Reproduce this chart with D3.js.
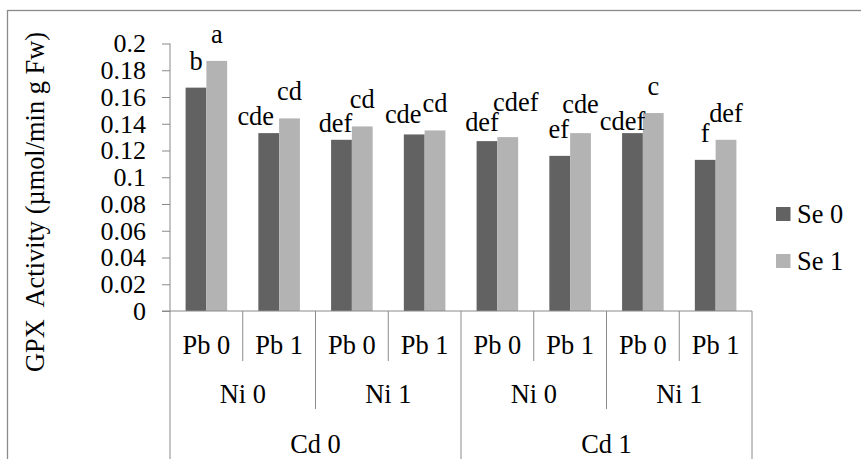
<!DOCTYPE html>
<html>
<head>
<meta charset="utf-8">
<script src="https://cdn.jsdelivr.net/npm/d3@7"></script>
<style>
  html, body { margin: 0; padding: 0; background: #fff; }
  svg text { font-family: "Times New Roman", "Liberation Serif", "DejaVu Serif", serif; }
</style>
</head>
<body>
<svg id="chart" width="861" height="459"></svg>
<script>
// ---- data ----
const cdLevels = ["Cd 0", "Cd 1"];
const niLevels = ["Ni 0", "Ni 1"];
const pbLevels = ["Pb 0", "Pb 1"];
const seriesNames = ["Se 0", "Se 1"];
const se0Values = [0.167, 0.133, 0.128, 0.132, 0.127, 0.116, 0.133, 0.113];
const se1Values = [0.187, 0.144, 0.138, 0.135, 0.130, 0.133, 0.148, 0.128];
const se0Letters = ["b", "cde", "def", "cde", "def", "ef", "cdef", "f"];
const se1Letters = ["a", "cd", "cd", "cd", "cdef", "cde", "c", "def"];
const yTicks = [0, 0.02, 0.04, 0.06, 0.08, 0.1, 0.12, 0.14, 0.16, 0.18, 0.2];

// label nudges (px) where the labels were pushed aside to avoid overlap
const se0NudgeX = [0, -13, -6, -11, -5, -1, -10, 0];
const se0NudgeY = [0, 10, 10, 7, 8, 0, 15, 0];
const se1NudgeX = [0, 0, 0, 0, 8, 0, 0, 0];
const se1NudgeY = [0, 0, 0, 0, -8, -2, 0, 0];

const colors = ["#626262", "#b3b3b3"];
const lineColor = "#8a8a8a";
const fontSize = 26.4;
const tickFontSize = 26;
const fontFamily = "'Times New Roman', 'Liberation Serif', 'DejaVu Serif', serif";

// Build the leaf categories (Cd > Ni > Pb) and rows of bars
const leaves = [];
cdLevels.forEach(function(cd) {
    niLevels.forEach(function(ni) {
        pbLevels.forEach(function(pb) {
            leaves.push({ cd: cd, ni: ni, pb: pb, key: cd + "|" + ni + "|" + pb });
        });
    });
});
const bars = [];
leaves.forEach(function(leaf, i) {
    bars.push({ leaf: leaf.key, s: seriesNames[0], v: se0Values[i], t: se0Letters[i], nx: se0NudgeX[i], ny: se0NudgeY[i], c: colors[0] });
    bars.push({ leaf: leaf.key, s: seriesNames[1], v: se1Values[i], t: se1Letters[i], nx: se1NudgeX[i], ny: se1NudgeY[i], c: colors[1] });
});

const svg = d3.select("#chart")
    .attr("font-family", fontFamily);

const plot = { left: 170, right: 752, top: 43.5, bottom: 311 };

const x = d3.scaleBand()
    .domain(leaves.map(function(d) { return d.key; }))
    .range([plot.left, plot.right])
    .padding(0);

// Excel-like gap width of 150%
const gap = x.bandwidth() * 0.75 / 3.5;
const xs = d3.scaleBand()
    .domain(seriesNames)
    .range([gap, x.bandwidth() - gap])
    .padding(0);

const y = d3.scaleLinear()
    .domain([0, 0.2])
    .range([plot.bottom, plot.top]);

/* ------- outer frame ------- */
svg.append("rect")
    .attr("x", 7.5)
    .attr("y", 10.5)
    .attr("width", 900)
    .attr("height", 500)
    .attr("fill", "none")
    .attr("stroke", lineColor)
    .attr("stroke-width", 1.3);

/* ------- bars ------- */
svg.append("g")
    .selectAll("rect")
    .data(bars)
    .enter()
    .append("rect")
    .attr("x", function(d) { return x(d.leaf) + xs(d.s); })
    .attr("y", function(d) { return y(d.v); })
    .attr("width", xs.bandwidth())
    .attr("height", function(d) { return y(0) - y(d.v); })
    .attr("fill", function(d) { return d.c; });

/* ------- letters above bars ------- */
svg.append("g")
    .selectAll("text")
    .data(bars)
    .enter()
    .append("text")
    .attr("x", function(d) { return x(d.leaf) + xs(d.s) + xs.bandwidth() / 2 + d.nx; })
    .attr("y", function(d) { return y(d.v) - 18 + d.ny; })
    .attr("text-anchor", "middle")
    .attr("font-size", fontSize)
    .attr("fill", "#000")
    .text(function(d) { return d.t; });

/* ------- y axis ------- */
const yAxis = svg.append("g")
    .attr("transform", "translate(" + plot.left + ",0)")
    .call(d3.axisLeft(y).tickValues(yTicks).tickSize(8).tickPadding(16)
        .tickFormat(function(d) { return d3.format("")(+d.toFixed(2)); }));
yAxis.attr("font-family", fontFamily).attr("font-size", tickFontSize);
yAxis.select(".domain").attr("stroke", lineColor).attr("d", "M0," + plot.top + "V" + plot.bottom);
yAxis.selectAll(".tick line").attr("stroke", lineColor);
yAxis.selectAll(".tick text")
    .attr("fill", "#000");

svg.append("text")
    .attr("transform", "translate(44,202) rotate(-90)")
    .attr("text-anchor", "middle")
    .attr("font-size", fontSize)
    .attr("fill", "#000")
    .attr("xml:space", "preserve")
    .text("GPX  Activity (\u00b5mol/min g Fw)");

/* ------- multi-level category axis ------- */
const cat = svg.append("g");
cat.append("line")
    .attr("x1", plot.left - 8).attr("x2", plot.right)
    .attr("y1", plot.bottom).attr("y2", plot.bottom)
    .attr("stroke", lineColor);

// divider lines: depth depends on which level boundary they fall on
const leafCount = leaves.length;
const boundaries = d3.range(leafCount + 1);
cat.selectAll("line.div")
    .data(boundaries)
    .enter()
    .append("line")
    .attr("class", "div")
    .attr("x1", function(i) { return plot.left + i * x.step(); })
    .attr("x2", function(i) { return plot.left + i * x.step(); })
    .attr("y1", plot.bottom)
    .attr("y2", function(i) {
        if (i % 4 === 0) return 470;
        if (i % 2 === 0) return 409;
        return 361;
    })
    .attr("stroke", lineColor);

// Pb row
cat.selectAll("text.pb")
    .data(leaves)
    .enter()
    .append("text")
    .attr("class", "pb")
    .attr("x", function(d) { return x(d.key) + x.bandwidth() / 2; })
    .attr("y", 354)
    .attr("text-anchor", "middle")
    .attr("font-size", fontSize)
    .text(function(d) { return d.pb; });

// Ni row
const niGroups = [];
cdLevels.forEach(function(cd, ci) {
    niLevels.forEach(function(ni, ni_i) {
        niGroups.push({ label: ni, idx: ci * niLevels.length + ni_i });
    });
});
cat.selectAll("text.ni")
    .data(niGroups)
    .enter()
    .append("text")
    .attr("class", "ni")
    .attr("x", function(d) { return plot.left + (d.idx * 2 + 1) * x.step(); })
    .attr("y", 403)
    .attr("text-anchor", "middle")
    .attr("font-size", fontSize)
    .text(function(d) { return d.label; });

// Cd row
cat.selectAll("text.cd")
    .data(cdLevels)
    .enter()
    .append("text")
    .attr("class", "cd")
    .attr("x", function(d, i) { return plot.left + (i * 4 + 2) * x.step(); })
    .attr("y", 453)
    .attr("text-anchor", "middle")
    .attr("font-size", fontSize)
    .text(function(d) { return d; });

/* ------- legend ------- */
const legend = svg.append("g")
    .attr("transform", "translate(776,207)");
const item = legend.selectAll("g")
    .data(seriesNames)
    .enter()
    .append("g")
    .attr("transform", function(d, i) { return "translate(0," + i * 47 + ")"; });
item.append("rect")
    .attr("width", 14.5)
    .attr("height", 14)
    .attr("fill", function(d, i) { return colors[i]; });
item.append("text")
    .attr("x", 21)
    .attr("y", 16)
    .attr("font-size", fontSize)
    .text(function(d) { return d; });
</script>
</body>
</html>
